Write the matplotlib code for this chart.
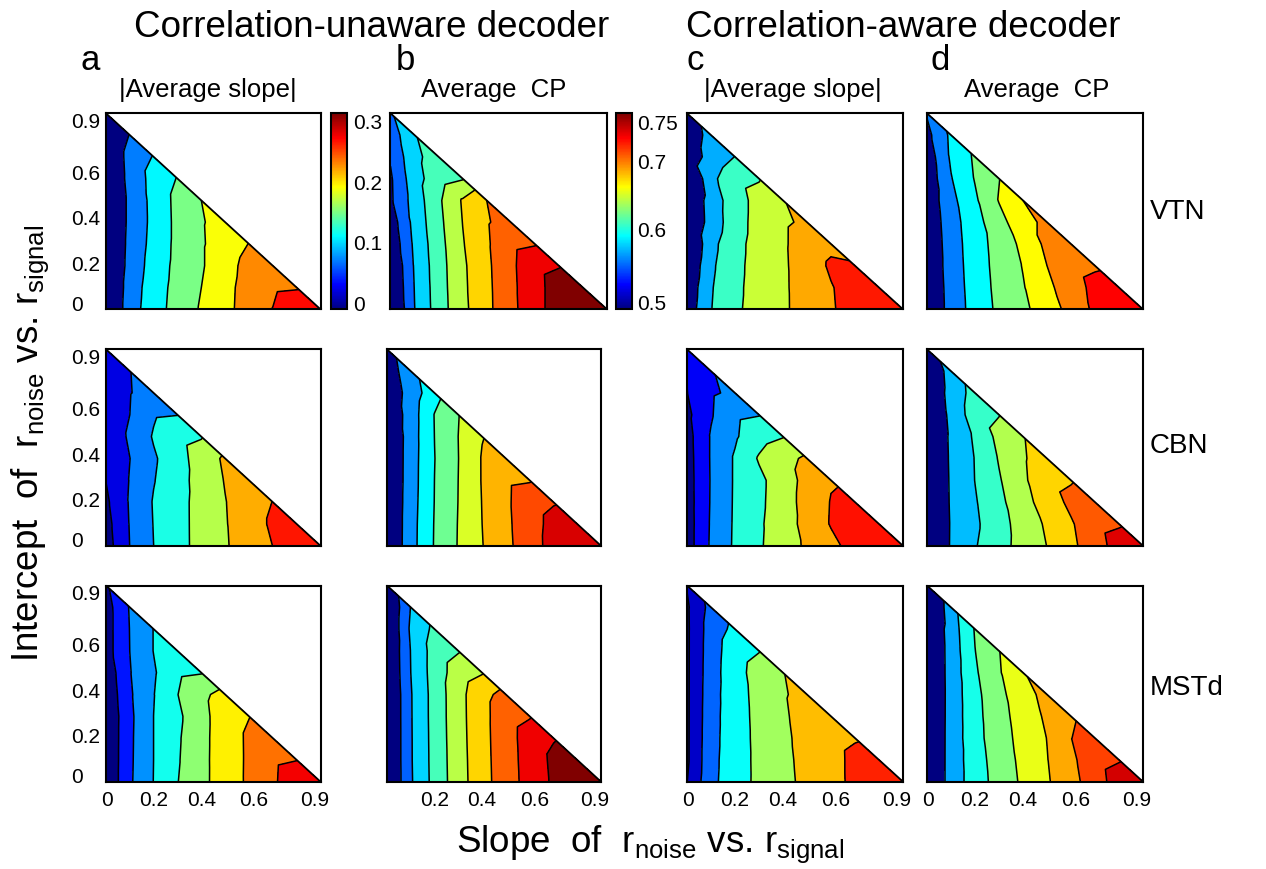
import numpy as np
import matplotlib
matplotlib.use("Agg")
import matplotlib.pyplot as plt
import matplotlib.tri as mtri
from matplotlib.colors import LinearSegmentedColormap, Normalize
from matplotlib.cm import ScalarMappable

plt.rcParams['font.family'] = ['Liberation Sans', 'DejaVu Sans']
plt.rcParams['mathtext.fontset'] = 'custom'
plt.rcParams['mathtext.rm'] = 'Liberation Sans'

# grid step of slope (x) and intercept (y); row j is intercept = j*step,
# entry i is slope = i*step, only slope + intercept <= 0.9 is defined
step = 0.1

# ---- VTN ----
vtn_slope_unaware = [
    [0.02, 0.091, 0.133, 0.165, 0.194, 0.220, 0.246, 0.271, 0.304, 0.31],
    [0.02, 0.088, 0.131, 0.163, 0.190, 0.219, 0.245, 0.262, 0.266],
    [0.02, 0.083, 0.127, 0.161, 0.186, 0.215, 0.243, 0.255],
    [0.02, 0.081, 0.123, 0.160, 0.186, 0.209, 0.231],
    [0.02, 0.079, 0.121, 0.160, 0.187, 0.205],
    [0.02, 0.079, 0.122, 0.161, 0.190],
    [0.02, 0.084, 0.123, 0.152],
    [0.02, 0.087, 0.112],
    [0.02, 0.072],
    [0.02]]
vtn_slope_unaware_lv = [0.07, 0.11, 0.15, 0.19, 0.23, 0.27]

vtn_cp_unaware = [
    [0.509, 0.5795, 0.625, 0.6625, 0.6925, 0.722, 0.749, 0.775, 0.79, 0.80],
    [0.514, 0.581, 0.626, 0.664, 0.693, 0.723, 0.749, 0.775, 0.785],
    [0.517, 0.583, 0.627, 0.665, 0.694, 0.724, 0.75, 0.758],
    [0.526, 0.586, 0.629, 0.668, 0.696, 0.723, 0.728],
    [0.533, 0.59, 0.632, 0.6705, 0.6976, 0.712],
    [0.545, 0.593, 0.635, 0.673, 0.70],
    [0.546, 0.598, 0.628, 0.638],
    [0.553, 0.6025, 0.625],
    [0.562, 0.608],
    [0.575]]
vtn_cp_unaware_lv = [0.55, 0.58, 0.61, 0.64, 0.67, 0.70, 0.73, 0.76]

vtn_slope_aware = [
    [0.057, 0.1286, 0.1674, 0.192, 0.2138, 0.2367, 0.2603, 0.284, 0.29, 0.295],
    [0.051, 0.1263, 0.1656, 0.1917, 0.214, 0.2378, 0.262, 0.286, 0.288],
    [0.040, 0.1218, 0.1638, 0.1912, 0.2142, 0.2393, 0.272, 0.268],
    [0.028, 0.1159, 0.1618, 0.1908, 0.2151, 0.238, 0.255],
    [0.039, 0.1019, 0.157, 0.1905, 0.215, 0.226],
    [0.040, 0.1043, 0.1557, 0.1905, 0.219],
    [0.024, 0.1178, 0.1626, 0.172],
    [0.061, 0.0987, 0.131],
    [0.066, 0.095],
    [0.07]]
vtn_slope_aware_lv = [0.085, 0.13, 0.175, 0.22, 0.265]

vtn_cp_aware = [
    [0.526, 0.569, 0.605, 0.6318, 0.6518, 0.6759, 0.7025, 0.733, 0.745, 0.755],
    [0.526, 0.5702, 0.607, 0.634, 0.6567, 0.6845, 0.709, 0.736, 0.74],
    [0.528, 0.572, 0.6085, 0.636, 0.6606, 0.692, 0.715, 0.722],
    [0.528, 0.5738, 0.6098, 0.638, 0.667, 0.700, 0.712],
    [0.530, 0.5763, 0.612, 0.6474, 0.6806, 0.70],
    [0.533, 0.581, 0.6196, 0.6607, 0.692],
    [0.533, 0.589, 0.627, 0.658],
    [0.536, 0.596, 0.63],
    [0.547, 0.598],
    [0.56]]
vtn_cp_aware_lv = [0.557, 0.591, 0.625, 0.659, 0.692, 0.726]

# ---- CBN ----
cbn_slope_unaware = [
    [0.0, 0.0715, 0.12, 0.1533, 0.1845, 0.2136, 0.2404, 0.2675, 0.293, 0.30],
    [0.005, 0.0735, 0.1216, 0.1536, 0.1847, 0.215, 0.244, 0.275, 0.28],
    [0.013, 0.0755, 0.1233, 0.1538, 0.1848, 0.2164, 0.2439, 0.268],
    [0.023, 0.0732, 0.1178, 0.1521, 0.1865, 0.2206, 0.246],
    [0.03, 0.0705, 0.1139, 0.1508, 0.1906, 0.226],
    [0.032, 0.0784, 0.1243, 0.155, 0.166],
    [0.035, 0.071, 0.115, 0.119],
    [0.035, 0.069, 0.09],
    [0.035, 0.07],
    [0.04]]
cbn_slope_unaware_lv = [0.022, 0.071, 0.12, 0.169, 0.218, 0.267]

cbn_cp_unaware = [
    [0.53, 0.5799, 0.622, 0.6506, 0.677, 0.700, 0.7231, 0.7466, 0.76, 0.765],
    [0.53, 0.5795, 0.6215, 0.6502, 0.678, 0.7012, 0.7237, 0.745, 0.75],
    [0.53, 0.5784, 0.6206, 0.6495, 0.6787, 0.7023, 0.7236, 0.734],
    [0.53, 0.5774, 0.6202, 0.6492, 0.6796, 0.7019, 0.705],
    [0.53, 0.5771, 0.6195, 0.6487, 0.6797, 0.69],
    [0.53, 0.5765, 0.6203, 0.6492, 0.677],
    [0.535, 0.576, 0.621, 0.648],
    [0.54, 0.574, 0.61],
    [0.545, 0.58],
    [0.55]]
cbn_cp_unaware_lv = [0.562, 0.591, 0.62, 0.649, 0.678, 0.707, 0.736]

cbn_slope_aware = [
    [0.005, 0.0827, 0.131, 0.1664, 0.1975, 0.2273, 0.2556, 0.2859, 0.295, 0.30],
    [0.005, 0.0812, 0.1303, 0.165, 0.199, 0.2343, 0.2712, 0.28, 0.285],
    [0.006, 0.0797, 0.1296, 0.1622, 0.1982, 0.2372, 0.27, 0.275],
    [0.007, 0.0792, 0.1291, 0.1609, 0.198, 0.2344, 0.265],
    [0.008, 0.0799, 0.129, 0.1764, 0.2055, 0.228],
    [0.010, 0.0798, 0.1182, 0.1554, 0.170],
    [0.017, 0.072, 0.115, 0.122],
    [0.027, 0.07, 0.085],
    [0.03, 0.074],
    [0.035]]
cbn_slope_aware_lv = [0.028, 0.076, 0.124, 0.172, 0.22, 0.268]

cbn_cp_aware = [
    [0.548, 0.5757, 0.6038, 0.6269, 0.649, 0.6705, 0.6947, 0.7205, 0.747, 0.755],
    [0.548, 0.5755, 0.6005, 0.6263, 0.651, 0.6747, 0.6984, 0.7247, 0.731],
    [0.548, 0.5762, 0.6033, 0.630, 0.6584, 0.6848, 0.7094, 0.72],
    [0.548, 0.5766, 0.6065, 0.6351, 0.6642, 0.6935, 0.70],
    [0.548, 0.5772, 0.6072, 0.6403, 0.6661, 0.69],
    [0.548, 0.5779, 0.6108, 0.6472, 0.668],
    [0.545, 0.5804, 0.624, 0.637],
    [0.55, 0.5828, 0.62],
    [0.548, 0.585],
    [0.56]]
cbn_cp_aware_lv = [0.574, 0.606, 0.638, 0.67, 0.702, 0.734]

# ---- MSTd ----
mstd_slope_unaware = [
    [0.0, 0.0713, 0.1178, 0.1559, 0.1871, 0.2159, 0.2435, 0.2707, 0.3027, 0.31],
    [0.0, 0.0703, 0.1172, 0.1534, 0.187, 0.2162, 0.2432, 0.2692, 0.276],
    [0.0, 0.0697, 0.1172, 0.1518, 0.1866, 0.2162, 0.2435, 0.262],
    [0.0, 0.0688, 0.1172, 0.1485, 0.1859, 0.2165, 0.236],
    [0.005, 0.0716, 0.1158, 0.1562, 0.1889, 0.21],
    [0.01, 0.0749, 0.1126, 0.15, 0.155],
    [0.02, 0.0772, 0.118, 0.13],
    [0.02, 0.078, 0.118],
    [0.02, 0.08],
    [0.03]]
mstd_slope_unaware_lv = [0.037, 0.077, 0.117, 0.157, 0.197, 0.237, 0.277]

mstd_cp_unaware = [
    [0.512, 0.5767, 0.6197, 0.657, 0.689, 0.7164, 0.7409, 0.7645, 0.79, 0.80],
    [0.512, 0.5774, 0.6203, 0.6577, 0.6896, 0.7171, 0.742, 0.7663, 0.775],
    [0.512, 0.5775, 0.6208, 0.6586, 0.6903, 0.7177, 0.7433, 0.758],
    [0.512, 0.5778, 0.6214, 0.6593, 0.6909, 0.7175, 0.728],
    [0.512, 0.578, 0.6215, 0.6597, 0.6912, 0.71],
    [0.515, 0.58, 0.6233, 0.655, 0.668],
    [0.516, 0.581, 0.623, 0.638],
    [0.515, 0.585, 0.617],
    [0.515, 0.581],
    [0.52]]
mstd_cp_unaware_lv = [0.55, 0.58, 0.61, 0.64, 0.67, 0.70, 0.73, 0.76]

mstd_slope_aware = [
    [0.012, 0.1001, 0.142, 0.1736, 0.200, 0.2251, 0.2488, 0.273, 0.285, 0.29],
    [0.005, 0.0983, 0.1416, 0.1741, 0.2019, 0.2266, 0.2494, 0.273, 0.278],
    [0.005, 0.0963, 0.1415, 0.1752, 0.2043, 0.2276, 0.25, 0.26],
    [0.005, 0.0949, 0.1418, 0.1766, 0.207, 0.2297, 0.245],
    [0.005, 0.0934, 0.1427, 0.1785, 0.2096, 0.225],
    [0.005, 0.0916, 0.1443, 0.1837, 0.212],
    [0.005, 0.0901, 0.1413, 0.161],
    [0.005, 0.088, 0.125],
    [0.006, 0.08],
    [0.016]]
mstd_slope_aware_lv = [0.013, 0.063, 0.113, 0.163, 0.213, 0.263]

mstd_cp_aware = [
    [0.537, 0.5797, 0.6116, 0.6357, 0.6578, 0.678, 0.6996, 0.7238, 0.7507, 0.76],
    [0.537, 0.5796, 0.6129, 0.6378, 0.66, 0.680, 0.7032, 0.7265, 0.735],
    [0.537, 0.5795, 0.6153, 0.6409, 0.6622, 0.6815, 0.7085, 0.72],
    [0.537, 0.5792, 0.6161, 0.643, 0.665, 0.6857, 0.706],
    [0.537, 0.5791, 0.6173, 0.6455, 0.6702, 0.69],
    [0.537, 0.5796, 0.6211, 0.6502, 0.679],
    [0.537, 0.58, 0.6245, 0.652],
    [0.537, 0.5817, 0.627],
    [0.53, 0.585],
    [0.53]]
mstd_cp_aware_lv = [0.569, 0.597, 0.625, 0.653, 0.681, 0.709, 0.737]

areas = ['VTN', 'CBN', 'MSTd']
columns = ['a', 'b', 'c', 'd']
col_titles = ['|Average slope|', 'Average  CP', '|Average slope|', 'Average  CP']
decoders = ['Correlation-unaware decoder', 'Correlation-aware decoder']

panels = [
    [(vtn_slope_unaware, vtn_slope_unaware_lv), (vtn_cp_unaware, vtn_cp_unaware_lv),
     (vtn_slope_aware, vtn_slope_aware_lv), (vtn_cp_aware, vtn_cp_aware_lv)],
    [(cbn_slope_unaware, cbn_slope_unaware_lv), (cbn_cp_unaware, cbn_cp_unaware_lv),
     (cbn_slope_aware, cbn_slope_aware_lv), (cbn_cp_aware, cbn_cp_aware_lv)],
    [(mstd_slope_unaware, mstd_slope_unaware_lv), (mstd_cp_unaware, mstd_cp_unaware_lv),
     (mstd_slope_aware, mstd_slope_aware_lv), (mstd_cp_aware, mstd_cp_aware_lv)],
]

slope_range = (-0.01, 0.314)
cp_range = (0.49, 0.76)
slope_cb_ticks = [0.0, 0.1, 0.2, 0.3]
slope_cb_labels = ['0', '0.1', '0.2', '0.3']
cp_cb_ticks = [0.5, 0.6, 0.693, 0.748]
cp_cb_labels = ['0.5', '0.6', '0.7', '0.75']

ytick_pos = [0.028, 0.211, 0.42, 0.63, 0.867]
ytick_lab = ['0', '0.2', '0.4', '0.6', '0.9']
xtick_pos = [0.004, 0.2, 0.4, 0.62, 0.875]
xtick_lab = ['0', '0.2', '0.4', '0.6', '0.9']

# MATLAB style jet
mjet = LinearSegmentedColormap.from_list('mjet', [
    (0.0, (0, 0, 0.5)), (0.125, (0, 0, 1)), (0.375, (0, 1, 1)),
    (0.625, (1, 1, 0)), (0.875, (1, 0, 0)), (1.0, (0.5, 0, 0))], N=256)


def triangle_mesh(rows):
    xs, ys, zs, idx = [], [], [], {}
    for j, row in enumerate(rows):
        for i, v in enumerate(row):
            idx[(i, j)] = len(xs)
            xs.append(i * step)
            ys.append(j * step)
            zs.append(v)
    tris = []
    for (i, j), k in idx.items():
        if (i + 1, j) in idx and (i, j + 1) in idx:
            tris.append([k, idx[(i + 1, j)], idx[(i, j + 1)]])
            if (i + 1, j + 1) in idx:
                tris.append([idx[(i + 1, j)], idx[(i + 1, j + 1)], idx[(i, j + 1)]])
    return mtri.Triangulation(xs, ys, tris), np.array(zs)


W, H = 1266, 869
fig = plt.figure(figsize=(W / 100, H / 100), dpi=100)


def box(x0, x1, ytop, ybot):
    return [x0 / W, 1 - ybot / H, (x1 - x0) / W, (ybot - ytop) / H]


row_y = [(113.3, 309.3), (349.3, 545.8), (585.5, 781.7)]
col_x = [(106, 320.5), (387, 601), (687, 903), (927, 1143)]

for r in range(3):
    for c in range(4):
        x0, x1 = col_x[c]
        if r == 0 and c == 1:
            x0, x1 = 390.5, 607
        ax = fig.add_axes(box(x0, x1, *row_y[r]))
        rows, lv = panels[r][c]
        tri, z = triangle_mesh(rows)
        lo, hi = slope_range if c % 2 == 0 else cp_range
        norm = Normalize(lo, hi)
        cols = [mjet(0.0)] + [mjet(norm(v)) for v in lv]
        ax.tricontourf(tri, z, levels=[-1.0] + lv + [2.0], colors=cols)
        ax.tricontour(tri, z, levels=lv, colors='k', linewidths=1.1)
        ax.plot([0, 0.9], [0.9, 0], color='k', lw=1.3)
        ax.set_xlim(0, 0.9)
        ax.set_ylim(0, 0.9)
        for s in ax.spines.values():
            s.set_linewidth(1.5)
        ax.tick_params(length=0, labelsize=15)
        if c == 0:
            ax.set_yticks(ytick_pos)
            ax.set_yticklabels(ytick_lab, ha='left')
            ax.tick_params(axis='y', pad=25)
        else:
            ax.set_yticks([])
        if r == 2:
            if c == 1:
                ax.set_xticks(xtick_pos[1:])
                ax.set_xticklabels(xtick_lab[1:])
            else:
                ax.set_xticks(xtick_pos)
                ax.set_xticklabels(xtick_lab)
            ax.tick_params(axis='x', pad=7)
        else:
            ax.set_xticks([])

# colour bars
for (x0, x1), rng, tk, tl in [((330.7, 347.3), slope_range, slope_cb_ticks, slope_cb_labels),
                              ((616, 631.7), cp_range, cp_cb_ticks, cp_cb_labels)]:
    cax = fig.add_axes(box(x0, x1, *row_y[0]))
    sm = ScalarMappable(norm=Normalize(*rng), cmap=mjet)
    cb = fig.colorbar(sm, cax=cax)
    cb.set_ticks(tk)
    cb.set_ticklabels(tl)
    cb.outline.set_linewidth(1.5)
    cax.tick_params(length=0, labelsize=15, pad=4)

# texts
fig.text(372 / W, 1 - 37 / H, decoders[0], fontsize=26.5, ha='center', va='baseline')
fig.text(903 / W, 1 - 37 / H, decoders[1], fontsize=26.5, ha='center', va='baseline')
for lab, xc in zip(columns, [90, 405, 695, 940]):
    fig.text(xc / W, 1 - 70 / H, lab, fontsize=25, ha='center', va='baseline')
for t, xc in zip(col_titles, [208, 494, 793, 1037]):
    fig.text(xc / W, 1 - 97 / H, t, fontsize=18.5, ha='center', va='baseline')
for name, yc in zip(areas, [212, 446, 688]):
    fig.text(1150 / W, 1 - yc / H, name, fontsize=20, ha='left', va='center')

fig.text(650 / W, 1 - 852 / H, r'Slope  of  r$_{\mathrm{noise}}$ vs. r$_{\mathrm{signal}}$',
         fontsize=26.5, ha='center', va='baseline')
fig.text(30 / W, 1 - 443 / H, r'Intercept  of  r$_{\mathrm{noise}}$ vs. r$_{\mathrm{signal}}$',
         fontsize=26.5, ha='center', va='center', rotation=90)

fig.savefig('out.png', dpi=100)
